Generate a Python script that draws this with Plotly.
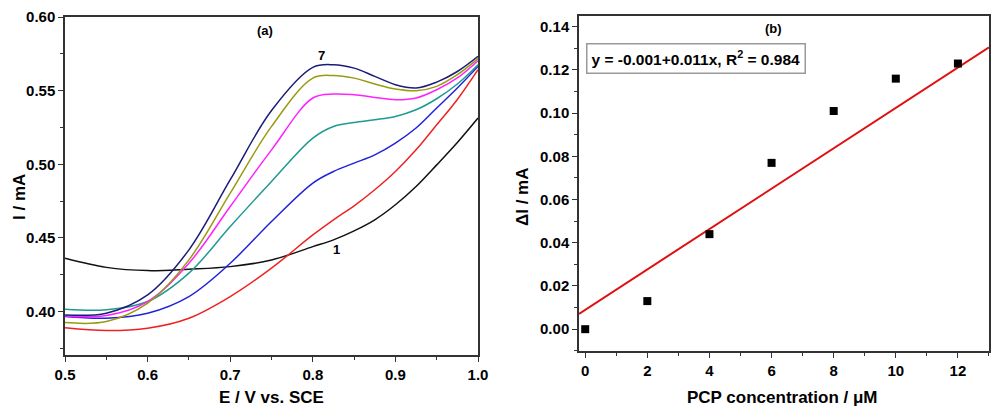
import plotly.graph_objects as go

# ---- panel (a): DPV curves, E / V vs SCE ----
E = [0.50, 0.55, 0.60, 0.65, 0.70, 0.75, 0.80, 0.825, 0.85, 0.875, 0.90, 0.925, 0.95, 0.975, 1.00]
curve1 = [0.4362, 0.4300, 0.4278, 0.4288, 0.4305, 0.4350, 0.4441, 0.4487, 0.4548, 0.4623, 0.4725, 0.4849, 0.4996, 0.5148, 0.5314]
curve2 = [0.3890, 0.3871, 0.3887, 0.3955, 0.4102, 0.4295, 0.4520, 0.4623, 0.4718, 0.4827, 0.4951, 0.5098, 0.5268, 0.5440, 0.5642]
curve3 = [0.3966, 0.3955, 0.3989, 0.4102, 0.4328, 0.4611, 0.4872, 0.4951, 0.5008, 0.5064, 0.5144, 0.5246, 0.5382, 0.5518, 0.5664]
curve4 = [0.4016, 0.4012, 0.4068, 0.4261, 0.4577, 0.4883, 0.5178, 0.5257, 0.5284, 0.5302, 0.5325, 0.5370, 0.5445, 0.5545, 0.5676]
curve5 = [0.3970, 0.3973, 0.4068, 0.4328, 0.4713, 0.5098, 0.5450, 0.5477, 0.5472, 0.5454, 0.5438, 0.5450, 0.5506, 0.5586, 0.5703]
curve6 = [0.3925, 0.3932, 0.4057, 0.4351, 0.4804, 0.5257, 0.5585, 0.5603, 0.5585, 0.5545, 0.5511, 0.5499, 0.5529, 0.5608, 0.5717]
curve7 = [0.3977, 0.3989, 0.4113, 0.4419, 0.4895, 0.5365, 0.5658, 0.5676, 0.5653, 0.5597, 0.5540, 0.5518, 0.5558, 0.5630, 0.5733]
curves = [curve1, curve2, curve3, curve4, curve5, curve6, curve7]
colors = ['#111111', '#ee2222', '#2222dd', '#1f9a90', '#ff22ff', '#9a9a10', '#1c1c78']

# ---- panel (b): calibration ----
conc = [0, 2, 4, 6, 8, 10, 12]
delta_i = [0.000, 0.013, 0.044, 0.077, 0.101, 0.116, 0.123]
fit_x = [-0.2, 13]
fit_y = [0.0071, 0.1305]

fig = go.Figure()

for c, col in zip(curves, colors):
    fig.add_trace(go.Scatter(x=E, y=c, mode='lines', line=dict(color=col, width=1.5, shape='spline'),
                             xaxis='x', yaxis='y', showlegend=False))

fig.add_trace(go.Scatter(x=fit_x, y=fit_y, mode='lines', line=dict(color='#e01010', width=2),
                         xaxis='x2', yaxis='y2', showlegend=False))
fig.add_trace(go.Scatter(x=conc, y=delta_i, mode='markers',
                         marker=dict(symbol='square', color='black', size=8),
                         xaxis='x2', yaxis='y2', showlegend=False))

tickf = dict(family='Liberation Sans', size=15, color='black', weight='bold')
titlef = dict(family='Liberation Sans', size=17, color='black', weight='bold')
ax = dict(showgrid=False, zeroline=False, showline=True, linecolor='#333', linewidth=1.5,
          mirror=True, ticks='outside', ticklen=5, tickwidth=1.2, tickcolor='#333', tickfont=tickf,
          automargin=False)

# page body has an 8px margin, so the figure is 992x404
fig.update_layout(
    width=992, height=404,
    margin=dict(l=0, r=0, t=0, b=0),
    paper_bgcolor='white', plot_bgcolor='white',
    xaxis=dict(ax, domain=[0.0575, 0.4738], range=[0.5, 1.0], dtick=0.1, tickformat='.1f',
               minor=dict(ticks='outside', ticklen=3, dtick=0.05, tickcolor='#333'), anchor='y'),
    yaxis=dict(ax, domain=[0.1411, 0.9777], range=[0.3705, 0.60], dtick=0.05, tick0=0.4, tickformat='.2f',
               minor=dict(ticks='outside', ticklen=3, dtick=0.025, tickcolor='#333'), anchor='x'),
    xaxis2=dict(ax, domain=[0.5756, 0.9889], range=[-0.2, 13], dtick=2, tick0=0,
                minor=dict(ticks='outside', ticklen=3, dtick=1, tickcolor='#333'), anchor='y2'),
    yaxis2=dict(ax, domain=[0.1510, 0.9802], range=[-0.0101, 0.145], dtick=0.02, tick0=0, tickformat='.2f',
                minor=dict(ticks='outside', ticklen=3, dtick=0.01, tickcolor='#333'), anchor='x2'),
)

# axis titles
ttl = dict(xref='paper', yref='paper', showarrow=False, font=titlef, xanchor='center', yanchor='middle')
fig.add_annotation(ttl, x=0.2661, y=0.0371, text='E / V vs. SCE')
fig.add_annotation(ttl, x=0.0121, y=0.5322, text='I / mA', textangle=-90)
fig.add_annotation(ttl, x=0.7812, y=0.0371, text='PCP concentration / μM')
fig.add_annotation(ttl, x=0.5192, y=0.5322, text='ΔI / mA', textangle=-90)

lab = dict(family='Liberation Sans', size=13, color='black', weight='bold')
fig.add_annotation(x=0.742, y=0.591, xref='x', yref='y', text='(a)', showarrow=False, font=lab)
fig.add_annotation(x=0.811, y=0.5737, xref='x', yref='y', text='7', showarrow=False, font=lab)
fig.add_annotation(x=0.829, y=0.4419, xref='x', yref='y', text='1', showarrow=False, font=lab)
fig.add_annotation(x=6.07, y=0.1394, xref='x2', yref='y2', text='(b)', showarrow=False, font=lab)
fig.add_annotation(x=0.01, y=0.1253, xref='x2', yref='y2', xanchor='left', text='y = -0.001+0.011x, R<sup>2</sup> = 0.984',
                   showarrow=False, font=dict(family='Liberation Sans', size=15.5, color='black', weight='bold'),
                   bordercolor='#999', borderwidth=1.5, borderpad=4, bgcolor='white')

fig.write_html("out.html")
